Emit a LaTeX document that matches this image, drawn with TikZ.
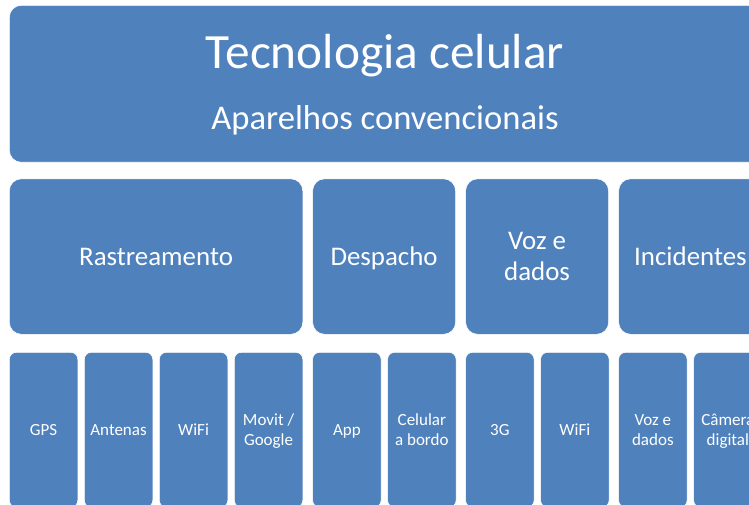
\documentclass[tikz,border=0pt]{standalone}
\usepackage{fontspec}
\setmainfont{Carlito}
\definecolor{azul}{HTML}{4F81BD}

\begin{document}
\begin{tikzpicture}[x=1pt, y=-1pt,
	caixa/.style={fill=azul, draw=white, line width=0.6pt, text=white, align=center, anchor=north west, inner sep=0pt, text depth=0pt},
	nivelb/.style={caixa, rounded corners=12pt, minimum height=155.5pt, font=\fontsize{26.9}{30.5}\selectfont},
	nivelc/.style={caixa, rounded corners=7pt, minimum width=68.5pt, minimum height=155pt, font=\fontsize{17}{19.5}\selectfont}]
	
	\def\largura{749};
	\def\altura{505};
	
	\useasboundingbox (0,0) rectangle (\largura,\altura);
	\clip (0,0) rectangle (\largura,\altura);
	
	% caixa principal
	\node[caixa, rounded corners=12pt, minimum width=753pt, minimum height=157pt] (topo) at (9,5) {};
	\node[text=white, anchor=base, font=\fontsize{49.3}{57}\selectfont] (titulo) at (385,68.3) {Tecnologia celular};
	\node[text=white, anchor=base, font=\fontsize{34.6}{40}\selectfont] (subtitulo) at (385,130) {Aparelhos convencionais};
	
	% segundo nivel
	\node[nivelb, minimum width=293.5pt] (rastreamento) at (9,178.5) {Rastreamento};
	\node[nivelb, minimum width=143pt] (despacho) at (312.3,178.5) {Despacho};
	\node[nivelb, minimum width=143pt] (vozdados) at (465.3,178.5) {Voz e\\dados};
	\node[nivelb, minimum width=143.7pt] (incidentes) at (618.3,178.5) {Incidentes};
	
	% terceiro nivel
	\node[nivelc] (gps) at (9,352) {GPS};
	\node[nivelc] (antenas) at (84,352) {Antenas};
	\node[nivelc] (wifia) at (159,352) {WiFi};
	\node[nivelc] (movit) at (234,352) {Movit /\\Google};
	\node[nivelc] (app) at (312.3,352) {App};
	\node[nivelc] (celular) at (387.3,352) {Celular\\a bordo};
	\node[nivelc] (tresg) at (465.3,352) {3G};
	\node[nivelc] (wifib) at (540.3,352) {WiFi};
	\node[nivelc] (vozdadosb) at (618.3,352) {Voz e\\dados};
	\node[nivelc] (camera) at (693.3,352) {Câmera\\digital};

\end{tikzpicture}
\end{document}
